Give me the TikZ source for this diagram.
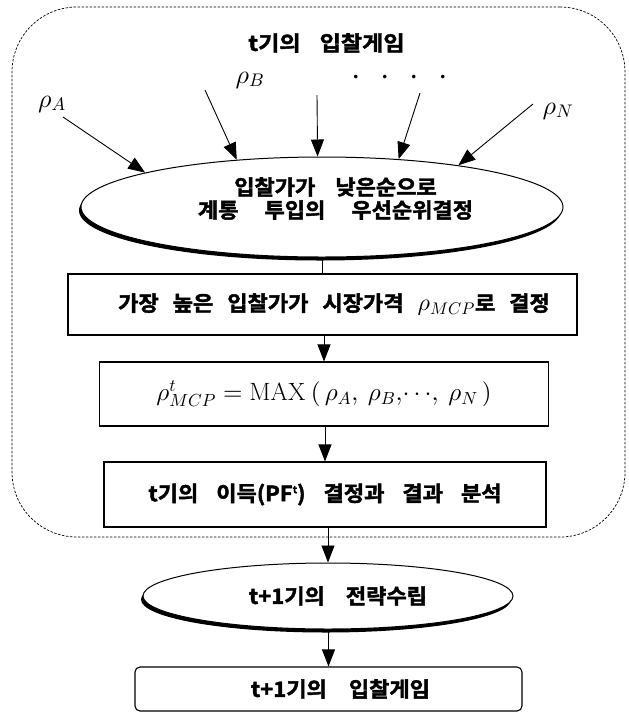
\documentclass[tikz,border=0pt]{standalone}
\usepackage{fontspec}
\usetikzlibrary{arrows.meta,shapes.geometric,shadows}
\DeclareFontShape{OML}{cmm}{m}{it}{<->cmmi10}{}
\DeclareFontShape{OT1}{cmr}{m}{n}{<->cmr10}{}
\DeclareFontShape{OMS}{cmsy}{m}{n}{<->cmsy10}{}
\newfontfamily\krb{Noto Sans CJK KR}[UprightFont=* Bold, FakeStretch=1.05, FakeBold=2]
\newfontfamily\krt{Noto Sans CJK KR}[UprightFont=* Bold, FakeStretch=1.1, FakeBold=2]
\newcommand\kg[1]{\hspace{#1pt}}
\begin{document}
\begin{tikzpicture}[x=1pt,y=-1pt,
  kt/.style={font=\krb\fontsize{21}{23}\selectfont, inner sep=0pt},
  mt/.style={font=\fontsize{26}{30}\selectfont, inner sep=0pt},
  boxn/.style={draw, line width=1.1pt, inner sep=0pt, fill=white},
  shell/.style={ellipse, draw, line width=1pt, fill=white, inner sep=0pt,
     drop shadow={shadow xshift=-2pt, shadow yshift=-3.5pt, fill=black, opacity=1}},
  frame/.style={draw, line width=0.7pt, dash pattern=on 2.5pt off 1.5pt, rounded corners=65pt, inner sep=0pt},
  arr/.style={-{Triangle[length=17pt,width=13pt]}, line width=0.9pt},
  link/.style={line width=0.9pt}]
\useasboundingbox (0,0) rectangle (629,713);

% dashed frame
\node[frame, minimum width=613pt, minimum height=530pt] (frame) at (318.5,272) {};

% title
\node[inner sep=0pt, font=\krt\fontsize{21}{24}\selectfont] (title) at (326.5,43) {t기의\kg{19}입찰게임};

% input labels
\node[mt] (lA) at (52,104) {$\rho_A$};
\node[mt] (lB) at (250,80) {$\rho_B$};
\node[mt] (lN) at (558,111) {$\rho_N$};
\node[inner sep=0pt, font=\fontsize{34}{34}\selectfont] (dots) at (399.5,78) {${\cdot}\hspace{19.5pt}{\cdot}\hspace{19.5pt}{\cdot}\hspace{19.5pt}{\cdot}$};

% ellipse 1
\node[shell, minimum width=482pt, minimum height=100pt] (ell) at (322,207) {};
\node[kt, align=center] (ellt) at (335.5,198.5) {입찰가가\kg{20}낮은순으로\\계통\kg{26}투입의\kg{26}우선순위결정};

% start points of the bids
\coordinate (sA) at (63,117);
\coordinate (sB) at (205,90);
\coordinate (sC) at (317,95);
\coordinate (sD) at (420,93);
\coordinate (sN) at (533,104);
\draw[arr] (sA) -- (ell.169.6);
\draw[arr] (sB) -- (ell.151.5);
\draw[arr] (sC) -- (ell.95.7);
\draw[arr] (sD) -- (ell.32.4);
\draw[arr] (sN) -- (ell.17);

% box 1
\node[boxn, kt, minimum width=509pt, minimum height=61pt] (b1) at (322.5,304.5)
  {\hspace*{23pt}가장\kg{14}높은\kg{14}입찰가가\kg{14}시장가격\kg{14}{\fontsize{24}{24}\selectfont$\rho_{MCP}$}로\kg{14}결정};
% box 2
\node[boxn, font=\fontsize{25}{30}\selectfont, minimum width=449pt, minimum height=64pt] (b2) at (324,394)
  {$\rho^{t}_{MCP}=\mathrm{MAX}\mkern4mu(\mkern3mu\rho_A,\mkern4mu\rho_B,\!\cdots\!,\mkern4mu\rho_N\mkern3mu)$};
% box 3
\node[boxn, kt, minimum width=442pt, minimum height=65pt] (b3) at (325,494.5)
  {t기의\kg{18}이득(PF\raisebox{8pt}{\fontsize{10}{10}\selectfont t})\kg{18}결정과\kg{18}결과\kg{18}분석};
% ellipse 2
\node[shell, kt, minimum width=370pt, minimum height=66pt] (ell2) at (328,596)
  {\hspace*{20pt}t+1기의\kg{21}전략수립};
% box 4
\node[boxn, kt, rounded corners=5pt, minimum width=387pt, minimum height=44pt] (b4) at (328.5,689)
  {\hspace*{24pt}t+1기의\kg{22}입찰게임};

% flow
\draw[link] (ell.south -| b1.north) -- (b1.north);
\draw[arr] (b1.south -| b2.north) -- (b2.north);
\draw[arr] (b2.south -| b3.north) -- (b3.north);
\draw[arr] (b3.south -| ell2.north) -- (ell2.north);
\draw[arr] (ell2.south -| b4.north) -- (b4.north);
\end{tikzpicture}
\end{document}
